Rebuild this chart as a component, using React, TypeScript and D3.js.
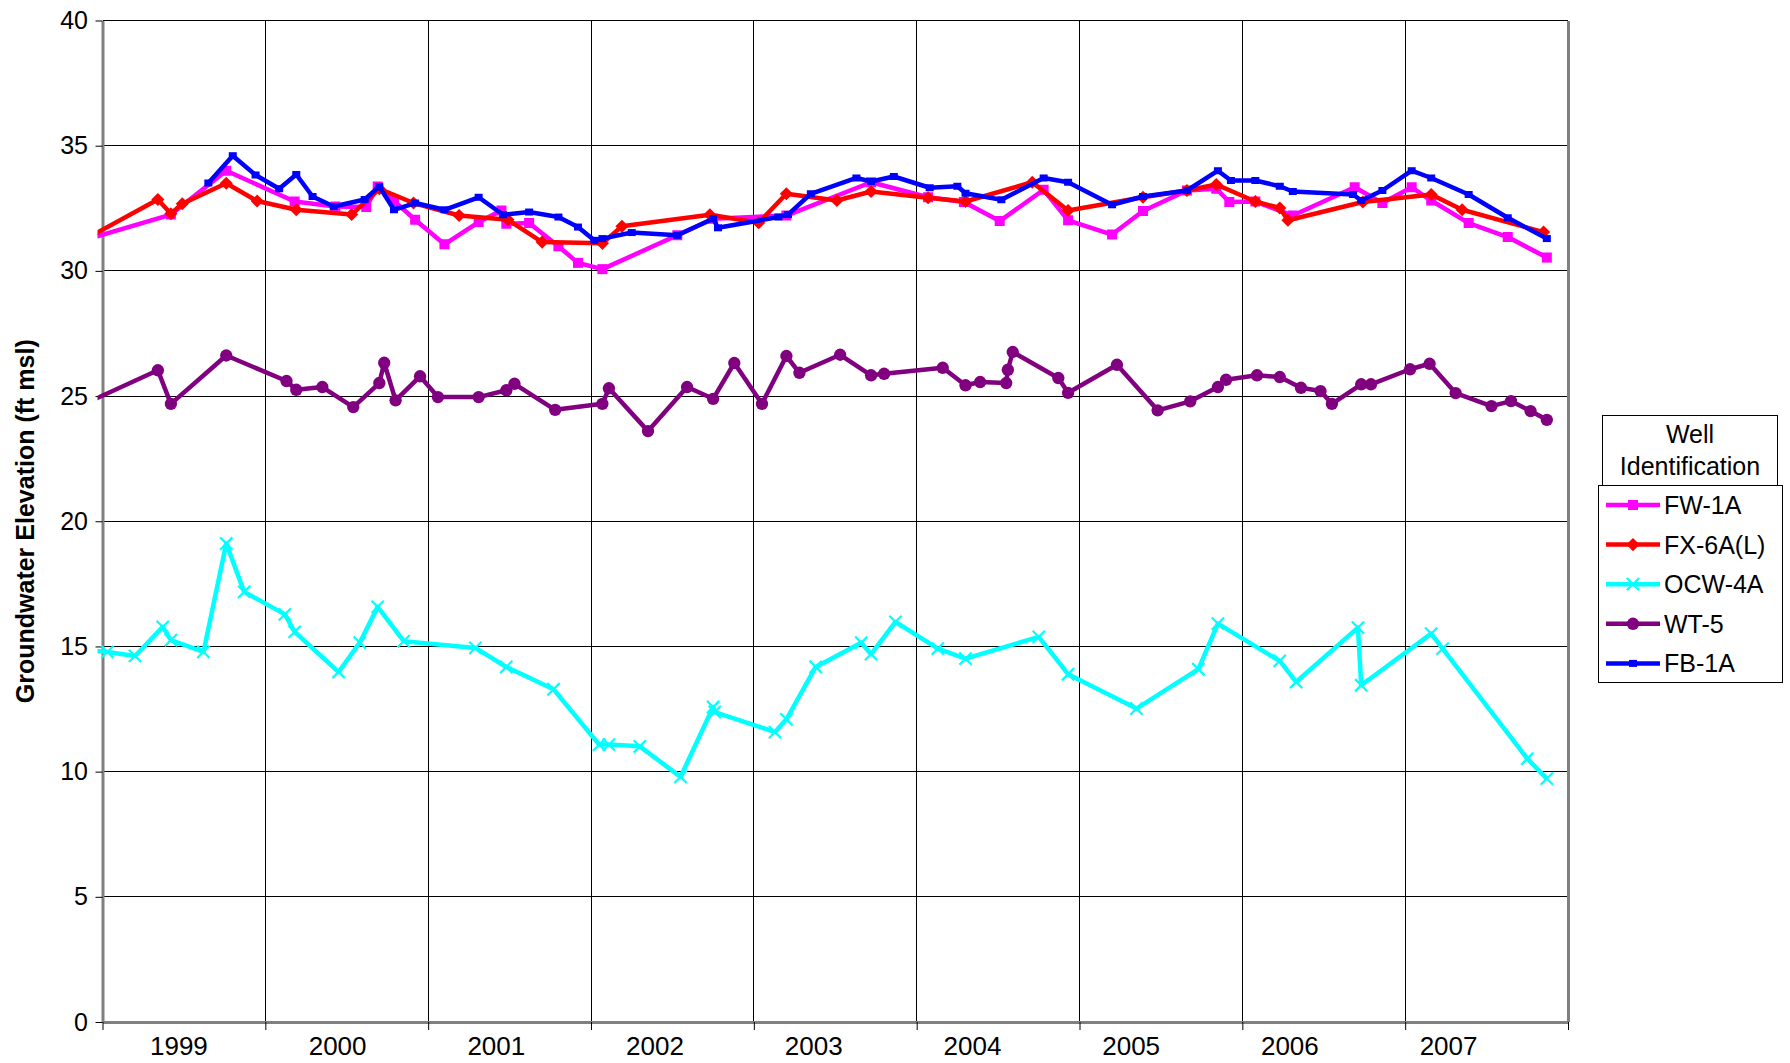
import React from "react";
import * as d3 from "d3";

// [decimal year, groundwater elevation ft msl]
type Reading = [number, number];

const yearLabels = [1999, 2000, 2001, 2002, 2003, 2004, 2005, 2006, 2007];
const yTicks = [0, 5, 10, 15, 20, 25, 30, 35, 40];

const fw1A: Reading[] = [
    [1998.9, 31.25], [1999.42, 32.25], [1999.76, 34.0], [2000.18, 32.77], [2000.43, 32.57],
    [2000.62, 32.55], [2000.69, 33.37], [2000.79, 32.79], [2000.92, 32.04], [2001.10, 31.06],
    [2001.31, 31.95], [2001.45, 32.41], [2001.48, 31.88], [2001.62, 31.91], [2001.80, 30.98],
    [2001.92, 30.32], [2002.07, 30.07], [2002.53, 31.42], [2002.75, 32.08], [2003.20, 32.21],
    [2003.72, 33.54], [2004.07, 32.94], [2004.29, 32.75], [2004.51, 31.99], [2004.78, 33.24],
    [2004.93, 32.02], [2005.20, 31.45], [2005.39, 32.39], [2005.66, 33.21], [2005.84, 33.28],
    [2005.92, 32.75], [2006.08, 32.77], [2006.31, 32.21], [2006.69, 33.34], [2006.86, 32.71],
    [2007.04, 33.34], [2007.16, 32.81], [2007.39, 31.91], [2007.63, 31.35], [2007.87, 30.53],
];

const fx6AL: Reading[] = [
    [1998.9, 31.29], [1999.34, 32.85], [1999.42, 32.28], [1999.49, 32.68], [1999.76, 33.50],
    [1999.95, 32.79], [2000.19, 32.44], [2000.53, 32.25], [2000.70, 33.28], [2000.91, 32.71],
    [2001.19, 32.21], [2001.49, 32.04], [2001.70, 31.15], [2002.07, 31.10], [2002.19, 31.78],
    [2002.73, 32.24], [2003.03, 31.92], [2003.20, 33.08], [2003.51, 32.81], [2003.72, 33.17],
    [2004.07, 32.92], [2004.30, 32.77], [2004.71, 33.54], [2004.93, 32.41], [2005.39, 32.94],
    [2005.66, 33.21], [2005.84, 33.45], [2006.08, 32.77], [2006.23, 32.51], [2006.28, 32.02],
    [2006.74, 32.75], [2007.16, 33.05], [2007.35, 32.44], [2007.85, 31.55],
];

const ocw4A: Reading[] = [
    [1998.9, 14.85], [1999.03, 14.78], [1999.20, 14.62], [1999.37, 15.78], [1999.42, 15.25],
    [1999.62, 14.78], [1999.76, 19.11], [1999.87, 17.18], [2000.12, 16.28], [2000.18, 15.58],
    [2000.45, 13.98], [2000.58, 15.15], [2000.69, 16.58], [2000.85, 15.21], [2001.29, 14.94],
    [2001.48, 14.18], [2001.77, 13.29], [2002.05, 11.08], [2002.11, 11.08], [2002.30, 11.01],
    [2002.55, 9.79], [2002.75, 12.58], [2002.76, 12.38], [2003.13, 11.58], [2003.20, 12.09],
    [2003.38, 14.18], [2003.66, 15.15], [2003.72, 14.69], [2003.87, 15.98], [2004.13, 14.91],
    [2004.30, 14.51], [2004.75, 15.38], [2004.93, 13.89], [2005.35, 12.52], [2005.73, 14.09],
    [2005.85, 15.91], [2006.23, 14.42], [2006.33, 13.58], [2006.71, 15.75], [2006.73, 13.45],
    [2007.16, 15.51], [2007.23, 14.91], [2007.75, 10.52], [2007.87, 9.72],
];

const wt5: Reading[] = [
    [1998.9, 24.72], [1999.34, 26.03], [1999.42, 24.69], [1999.76, 26.62], [2000.13, 25.60],
    [2000.19, 25.25], [2000.35, 25.36], [2000.54, 24.56], [2000.70, 25.52], [2000.73, 26.33],
    [2000.80, 24.83], [2000.95, 25.79], [2001.06, 24.96], [2001.31, 24.96], [2001.48, 25.23],
    [2001.53, 25.49], [2001.78, 24.45], [2002.07, 24.69], [2002.11, 25.31], [2002.35, 23.60],
    [2002.59, 25.36], [2002.75, 24.89], [2002.88, 26.32], [2003.05, 24.69], [2003.20, 26.60],
    [2003.28, 25.93], [2003.53, 26.65], [2003.72, 25.83], [2003.80, 25.89], [2004.16, 26.13],
    [2004.30, 25.43], [2004.39, 25.56], [2004.55, 25.52], [2004.56, 26.05], [2004.59, 26.76],
    [2004.87, 25.72], [2004.93, 25.13], [2005.23, 26.25], [2005.48, 24.43], [2005.68, 24.79],
    [2005.85, 25.36], [2005.90, 25.65], [2006.09, 25.83], [2006.23, 25.76], [2006.36, 25.33],
    [2006.48, 25.20], [2006.55, 24.69], [2006.73, 25.47], [2006.79, 25.47], [2007.03, 26.07],
    [2007.15, 26.29], [2007.31, 25.12], [2007.53, 24.60], [2007.65, 24.80], [2007.77, 24.40],
    [2007.87, 24.05],
];

const fb1A: Reading[] = [
    [1999.65, 33.51], [1999.80, 34.60], [1999.94, 33.83], [2000.085, 33.28], [2000.19, 33.85],
    [2000.29, 32.97], [2000.42, 32.57], [2000.61, 32.85], [2000.70, 33.37], [2000.79, 32.44],
    [2000.92, 32.71], [2001.10, 32.44], [2001.31, 32.94], [2001.46, 32.24], [2001.62, 32.35],
    [2001.80, 32.15], [2001.92, 31.75], [2002.02, 31.22], [2002.07, 31.29], [2002.25, 31.53],
    [2002.53, 31.42], [2002.75, 32.08], [2002.78, 31.72], [2003.15, 32.15], [2003.21, 32.25],
    [2003.35, 33.08], [2003.63, 33.71], [2003.72, 33.57], [2003.86, 33.77], [2004.08, 33.32],
    [2004.25, 33.38], [2004.30, 33.10], [2004.52, 32.84], [2004.78, 33.71], [2004.93, 33.54],
    [2005.20, 32.64], [2005.39, 32.97], [2005.66, 33.21], [2005.85, 34.0], [2005.93, 33.61],
    [2006.08, 33.61], [2006.23, 33.38], [2006.31, 33.17], [2006.68, 33.05], [2006.73, 32.81],
    [2006.86, 33.21], [2007.04, 34.0], [2007.16, 33.71], [2007.39, 33.05], [2007.63, 32.12],
    [2007.87, 31.29],
];

const seriesNames = ["FW-1A", "FX-6A(L)", "OCW-4A", "WT-5", "FB-1A"];
const seriesData = [fw1A, fx6AL, ocw4A, wt5, fb1A];
const seriesColors = ["#FF00FF", "#FF0000", "#00FFFF", "#800080", "#0000FF"];

const FONT = "'Liberation Sans', Arial, Helvetica, sans-serif";
const WIDTH = 1790;
const HEIGHT = 1063;
const plot = { left: 102.5, right: 1568, top: 20.5, bottom: 1022 };

export default class App extends React.Component {
    private svgRef = React.createRef<SVGSVGElement>();

    public componentDidMount() {
        this.drawChart();
    }

    public render() {
        return <svg ref={this.svgRef} width={WIDTH} height={HEIGHT}
            style={{ position: "absolute", left: 0, top: 0, background: "#fff" }}></svg>;
    }

    private drawMarker = (g: d3.Selection<SVGGElement, unknown, null, undefined>, i: number, color: string) => {
        // one marker shape per series, like the Excel defaults
        if (i === 0) {
            g.append("path").attr("d", d3.symbol(d3.symbolSquare, 100)()).attr("fill", color);
        } else if (i === 1) {
            g.append("path").attr("d", d3.symbol(d3.symbolDiamond2, 110)()).attr("fill", color);
        } else if (i === 2) {
            g.append("path").attr("d", d3.symbol(d3.symbolTimes, 100)())
                .attr("fill", "none").attr("stroke", color).attr("stroke-width", 2.2);
        } else if (i === 3) {
            g.append("path").attr("d", d3.symbol(d3.symbolCircle, 120)()).attr("fill", color);
        } else {
            g.append("rect").attr("x", -4).attr("y", -3.5).attr("width", 8).attr("height", 7).attr("fill", color);
        }
    }

    private drawChart = (): void => {
        const svg = d3.select(this.svgRef.current as SVGSVGElement);
        svg.selectAll("*").remove();

        const x = d3.scaleLinear().domain([1999, 2008]).range([plot.left, plot.right]);
        const y = d3.scaleLinear().domain([0, 40]).range([plot.bottom, plot.top]);
        // year captions sit a bit left of the year centres in the original
        const labelX = d3.scaleLinear().domain([1999, 2007]).range([x(1999.5) - 5, x(2007.5) - 38]);

        // gridlines
        const grid = svg.append("g").attr("shape-rendering", "crispEdges");
        grid.selectAll("line.h")
            .data(yTicks.filter(d => d > 0))
            .enter()
            .append("line")
            .attr("x1", plot.left).attr("x2", plot.right)
            .attr("y1", d => y(d)).attr("y2", d => y(d))
            .attr("stroke", "#000").attr("stroke-width", 1);
        grid.selectAll("line.v")
            .data(d3.range(2000, 2008))
            .enter()
            .append("line")
            .attr("x1", d => x(d)).attr("x2", d => x(d))
            .attr("y1", plot.top).attr("y2", plot.bottom)
            .attr("stroke", "#000").attr("stroke-width", 1);
        grid.append("line")
            .attr("x1", plot.right).attr("x2", plot.right)
            .attr("y1", plot.top).attr("y2", plot.bottom)
            .attr("stroke", "#808080").attr("stroke-width", 3);

        // y axis
        const yAxis = svg.append("g")
            .attr("transform", `translate(${plot.left},0)`)
            .call(d3.axisLeft(y).tickValues(yTicks).tickSize(7).tickSizeOuter(0).tickPadding(7.5));
        yAxis.select(".domain").attr("stroke", "#808080").attr("stroke-width", 3);
        yAxis.selectAll(".tick line").attr("stroke", "#000");
        yAxis.selectAll(".tick text")
            .attr("font-family", FONT).attr("font-size", "25px").attr("fill", "#000");

        // x axis
        const xAxis = svg.append("g")
            .attr("transform", `translate(0,${plot.bottom})`)
            .call(d3.axisBottom(x).tickValues(d3.range(1999, 2009)).tickSize(8).tickSizeOuter(0).tickFormat(() => ""));
        xAxis.select(".domain").attr("stroke", "#808080").attr("stroke-width", 3);
        xAxis.selectAll(".tick line").attr("stroke", "#000");

        svg.append("g").selectAll("text")
            .data(yearLabels)
            .enter()
            .append("text")
            .text(d => d)
            .attr("x", d => labelX(d))
            .attr("y", 1055)
            .attr("text-anchor", "middle")
            .attr("font-family", FONT)
            .attr("font-size", "26px")
            .attr("fill", "#000");

        // y title
        svg.append("text")
            .text("Groundwater Elevation (ft msl)")
            .attr("transform", `translate(34,${(plot.top + plot.bottom) / 2}) rotate(-90)`)
            .attr("text-anchor", "middle")
            .attr("font-family", FONT)
            .attr("font-weight", "bold")
            .attr("font-size", "25px")
            .attr("fill", "#000");

        // series
        svg.append("clipPath").attr("id", "plot-clip")
            .append("rect")
            .attr("x", plot.left - 5).attr("y", plot.top - 10)
            .attr("width", plot.right - plot.left + 5).attr("height", plot.bottom - plot.top + 10);

        const line = d3.line<Reading>().x(d => x(d[0])).y(d => y(d[1]));
        const series = svg.append("g").attr("clip-path", "url(#plot-clip)");
        seriesData.forEach((data, i) => {
            const color = seriesColors[i];
            const g = series.append("g");
            g.append("path")
                .datum(data)
                .attr("d", line)
                .attr("fill", "none")
                .attr("stroke", color)
                .attr("stroke-width", 4.5)
                .attr("stroke-linejoin", "round");
            data.forEach(d => {
                const m = g.append("g").attr("transform", `translate(${x(d[0])},${y(d[1])})`);
                this.drawMarker(m, i, color);
            });
        });

        // legend
        const legend = svg.append("g");
        legend.append("rect")
            .attr("x", 1602.5).attr("y", 415.5).attr("width", 175).attr("height", 70)
            .attr("fill", "#fff").attr("stroke", "#000").attr("stroke-width", 1);
        legend.selectAll("text.title")
            .data(["Well", "Identification"])
            .enter()
            .append("text")
            .text(d => d)
            .attr("x", 1690)
            .attr("y", (d, i) => 443 + i * 32)
            .attr("text-anchor", "middle")
            .attr("font-family", FONT)
            .attr("font-size", "25px")
            .attr("fill", "#000");
        legend.append("rect")
            .attr("x", 1598.5).attr("y", 485.5).attr("width", 184).attr("height", 197)
            .attr("fill", "#fff").attr("stroke", "#000").attr("stroke-width", 1);
        seriesNames.forEach((name, i) => {
            const cy = 505 + i * 39.6;
            const item = legend.append("g");
            item.append("line")
                .attr("x1", 1606).attr("x2", 1660).attr("y1", cy).attr("y2", cy)
                .attr("stroke", seriesColors[i]).attr("stroke-width", 4.5);
            const m = item.append("g").attr("transform", `translate(1633,${cy})`);
            this.drawMarker(m, i, seriesColors[i]);
            item.append("text")
                .text(name)
                .attr("x", 1664)
                .attr("y", cy + 9)
                .attr("font-family", FONT)
                .attr("font-size", "25px")
                .attr("fill", "#000");
        });
    }
}
